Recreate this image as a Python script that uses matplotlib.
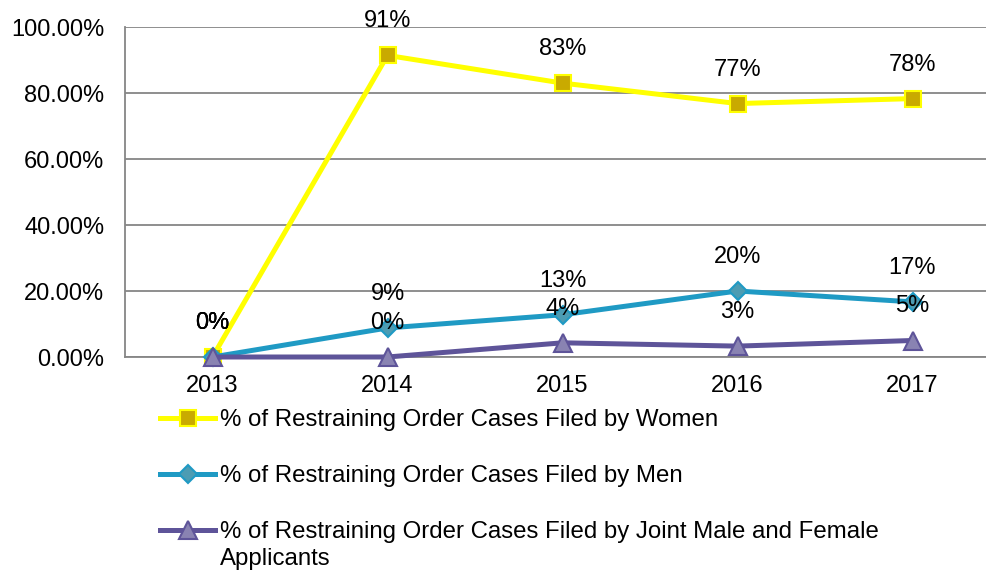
import matplotlib
matplotlib.use('Agg')
import matplotlib.pyplot as plt

plt.rcParams['font.family'] = ['Liberation Sans', 'DejaVu Sans']

years = ['2013', '2014', '2015', '2016', '2017']
women = [0.0, 0.914, 0.83, 0.768, 0.783]
men = [0.0, 0.088, 0.128, 0.20, 0.167]
joint = [0.0, 0.0, 0.043, 0.033, 0.05]
y_ticks = [0.0, 0.2, 0.4, 0.6, 0.8, 1.0]

series = [
    ('% of Restraining Order Cases Filed by Women', women,
     '#FFFF00', 's', '#C9AA00', '#FFFF00', 11),
    ('% of Restraining Order Cases Filed by Men', men,
     '#1F9AC4', 'D', '#4C9CB3', '#1F9AC4', 9.5),
    ('% of Restraining Order Cases Filed by Joint Male and Female', joint,
     '#5E5499', '^', '#8983B2', '#5E5499', 13),
]
wrap_line = 'Applicants'

fs = 17
leg_fs = 17.3
fig = plt.figure(figsize=(9.87, 5.74), dpi=100)
ax = fig.add_axes([125 / 987, 217 / 574, 875 / 987, 330 / 574])

x = list(range(len(years)))
handles = []
for label, vals, lc, mk, mfc, mec, ms in series:
    h, = ax.plot(x, vals, color=lc, linewidth=3.6, marker=mk, markersize=ms,
                 markerfacecolor=mfc, markeredgecolor=mec, markeredgewidth=1.5,
                 label=label, clip_on=False, zorder=3)
    handles.append(h)
    for xi, v in zip(x, vals):
        ax.annotate(f"{v:.0%}", xy=(xi, v), xytext=(0, 24.5),
                    textcoords='offset points', ha='center', va='center',
                    fontsize=fs, color='black', zorder=5)

ax.set_xlim(-0.5, len(years) - 0.5)
ax.set_ylim(0, 1.0)
ax.set_xticks(x)
ax.set_xticklabels(years)
ax.set_yticks(y_ticks)
ax.set_yticklabels([f"{t:.2%}" for t in y_ticks])
ax.tick_params(axis='both', length=0, labelsize=fs)
ax.tick_params(axis='y', pad=15)
ax.tick_params(axis='x', pad=13)
ax.grid(axis='y', color='#868686', linewidth=1.3)
ax.set_axisbelow(True)
for side in ['top', 'right']:
    ax.spines[side].set_visible(False)
for side in ['left', 'bottom']:
    ax.spines[side].set_color('#868686')
    ax.spines[side].set_linewidth(1.3)

leg = fig.legend(handles=handles, loc='upper left',
                 bbox_to_anchor=(160 / 987, 1 - 409 / 574),
                 frameon=False, fontsize=leg_fs, borderpad=0, borderaxespad=0,
                 handlelength=2.3, handletextpad=0.2, labelspacing=1.42)

# second line of the last legend label, placed under its first line
fig.canvas.draw()
last = leg.get_texts()[-1]
bb = last.get_window_extent()
fig.text(bb.x0 / fig.bbox.width, (bb.y0 - 27) / fig.bbox.height, wrap_line,
         fontsize=leg_fs, ha='left', va='bottom')

fig.savefig('out.png', dpi=100)
